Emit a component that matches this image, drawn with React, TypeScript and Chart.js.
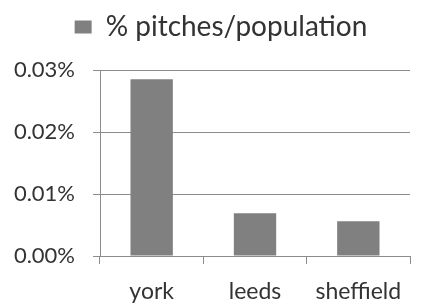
import React, { useEffect, useRef } from "react";
import { Chart, registerables } from "chart.js";

Chart.register(...registerables);

const categories = ["york", "leeds", "sheffield"];
const seriesLabel = "% pitches/population";
const pitchesPerPopulation = [0.0285, 0.0069, 0.0056];
const yTicks = [0, 0.01, 0.02, 0.03];

const legendTweak = {
  id: "legendTweak",
  beforeInit(chart: any) {
    const orig = chart.legend.fit;
    chart.legend.fit = function () {
      orig.call(this);
      this.height += 22;
    };
  },
  afterUpdate(chart: any) {
    chart.legend.left += 16;
    chart.legend.right += 16;
    chart.legend.top += 3;
    chart.legend.bottom += 3;
  },
};

export default function App() {
  const ref = useRef<HTMLCanvasElement | null>(null);

  useEffect(() => {
    if (!ref.current) return;
    const font = "Lato, 'Open Sans', sans-serif";
    const chart = new Chart(ref.current, {
      type: "bar",
      data: {
        labels: categories,
        datasets: [
          {
            label: seriesLabel,
            data: pitchesPerPopulation,
            backgroundColor: "#808080",
            borderWidth: 0,
            categoryPercentage: 1,
            barPercentage: 0.41,
          },
        ],
      },
      plugins: [legendTweak],
      options: {
        animation: false,
        responsive: false,
        maintainAspectRatio: false,
        layout: { padding: { left: 0, right: 11, top: 0, bottom: 0 } },
        plugins: {
          tooltip: { enabled: false },
          legend: {
            display: true,
            position: "top",
            labels: {
              boxWidth: 17,
              boxHeight: 13,
              padding: 10,
              color: "#333",
              font: { family: font, size: 28 },
            },
          },
        },
        scales: {
          x: {
            offset: true,
            afterFit: (axis: any) => {
              axis.height = 51;
            },
            grid: {
              offset: true,
              drawOnChartArea: false,
              drawTicks: true,
              tickLength: 8,
              color: "#8c8c8c",
            },
            border: { display: true, color: "#8c8c8c", width: 1 },
            ticks: {
              color: "#333",
              padding: 14,
              maxRotation: 0,
              font: { family: font, size: 23 },
            },
          },
          y: {
            min: 0,
            max: 0.03,
            afterBuildTicks: (axis: any) => {
              axis.ticks = yTicks.map((v) => ({ value: v }));
            },
            afterFit: (axis: any) => {
              axis.width = 100;
            },
            grid: {
              color: "#8c8c8c",
              tickLength: 7,
              drawTicks: true,
            },
            border: { display: true, color: "#8c8c8c", width: 1 },
            ticks: {
              color: "#333",
              padding: 18,
              font: { family: font, size: 22 },
              callback: (v: any) => Number(v).toFixed(2) + "%",
            },
          },
        },
      },
    });
    return () => chart.destroy();
  }, []);

  return (
    <div style={{ position: "fixed", left: 0, top: 0, width: 421, height: 307, background: "#fff" }}>
      <canvas ref={ref} width={421} height={307} style={{ width: 421, height: 307 }} />
    </div>
  );
}
